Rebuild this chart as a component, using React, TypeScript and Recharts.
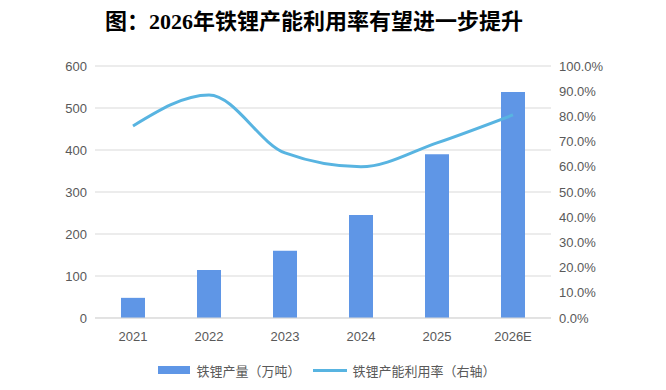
import { ComposedChart, Bar, Line, XAxis, YAxis, CartesianGrid, Legend } from "recharts";

// 年份
const years = ["2021", "2022", "2023", "2024", "2025", "2026E"];
// 铁锂产量（万吨）
const output = [48, 114, 160, 245, 390, 538];
// 铁锂产能利用率（%）
const utilization = [76.2, 88.5, 65.5, 60.0, 69.5, 80.6];
const leftTicks = [0, 100, 200, 300, 400, 500, 600];
const rightTicks = [0, 10, 20, 30, 40, 50, 60, 70, 80, 90, 100];

const data = years.map((year, i) => ({
  year,
  output: output[i],
  utilization: utilization[i],
}));

const tickStyle = { fill: "#595959", fontSize: 13, fontFamily: "Arial, 'Liberation Sans', sans-serif" };

const LegendContent = ({ payload }: any) => {
  // bar first, then line
  const items = [...(payload || [])].sort((a: any, b: any) => (a.type === "rect" ? -1 : 1) - (b.type === "rect" ? -1 : 1));
  return (
    <div
      style={{
        display: "flex",
        justifyContent: "center",
        alignItems: "center",
        height: 30,
        paddingTop: 14,
        boxSizing: "border-box",
        fontSize: 13,
        color: "#595959",
        fontFamily: "'Noto Sans CJK SC', sans-serif",
      }}
    >
      {items.map((p: any) => (
        <div key={p.value} style={{ display: "flex", alignItems: "center", marginRight: 12 }}>
          {p.type === "rect" ? (
            <span style={{ display: "inline-block", width: 32, height: 8, background: p.color, marginRight: 6 }} />
          ) : (
            <span style={{ display: "inline-block", width: 34, height: 3, background: p.color, marginRight: 6 }} />
          )}
          <span>{p.value}</span>
        </div>
      ))}
    </div>
  );
};

export default function App() {
  return (
    <div style={{ position: "absolute", left: 0, top: 0, width: 666, height: 390, background: "#fff" }}>
      <div
        style={{
          position: "absolute",
          left: 0,
          width: 628,
          top: 8,
          textAlign: "center",
          fontSize: 22,
          fontWeight: "bold",
          color: "#000",
          fontFamily: "'Liberation Serif', 'Noto Sans CJK SC', serif",
          lineHeight: "28px",
          zIndex: 1,
        }}
      >
        图：2026年铁锂产能利用率有望进一步提升
      </div>
      <ComposedChart width={666} height={390} data={data} margin={{ top: 66, right: 0, bottom: 12, left: 0 }}>
        <CartesianGrid vertical={false} stroke="#d9d9d9" yAxisId="left" />
        <XAxis
          dataKey="year"
          tick={tickStyle}
          tickLine={false}
          axisLine={{ stroke: "#d9d9d9" }}
          tickMargin={8}
          height={30}
        />
        <YAxis
          yAxisId="left"
          width={95}
          domain={[0, 600]}
          ticks={leftTicks}
          tick={tickStyle}
          tickLine={false}
          axisLine={false}
        />
        <YAxis
          yAxisId="right"
          orientation="right"
          width={115}
          domain={[0, 100]}
          ticks={rightTicks}
          tick={tickStyle}
          tickFormatter={(v: number) => `${v.toFixed(1)}%`}
          tickLine={false}
          axisLine={false}
        />
        <Legend verticalAlign="bottom" content={<LegendContent />} />
        <Bar
          yAxisId="left"
          dataKey="output"
          name="铁锂产量（万吨）"
          fill="#5f96e6"
          barSize={24}
          legendType="rect"
          isAnimationActive={false}
        />
        <Line
          yAxisId="right"
          dataKey="utilization"
          name="铁锂产能利用率（右轴）"
          type="monotone"
          stroke="#58b4e1"
          strokeWidth={3}
          dot={false}
          legendType="plainline"
          isAnimationActive={false}
        />
      </ComposedChart>
    </div>
  );
}
